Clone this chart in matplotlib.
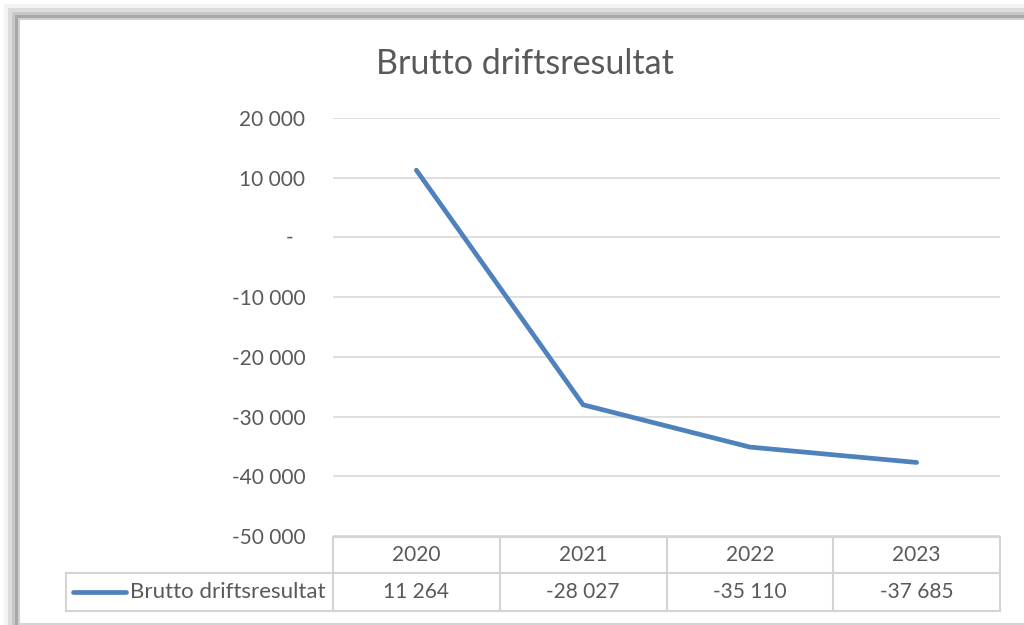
import matplotlib.pyplot as plt
import matplotlib.transforms as mtransforms
from matplotlib.lines import Line2D
from matplotlib.patches import Rectangle

years = ["2020", "2021", "2022", "2023"]
values = [11264, -28027, -35110, -37685]
yticks = [20000, 10000, 0, -10000, -20000, -30000, -40000, -50000]
series_name = "Brutto driftsresultat"

W, H = 1024, 625
txt = "#595959"
grid = "#D9D9D9"
blue = "#4F81BD"
plt.rcParams['font.family'] = ['Lato', 'DejaVu Sans']


def fx(px):
    return px / W


def fy(py):
    return 1 - py / H


def fmt(v):
    # zero is drawn separately as an accounting dash
    if v == 0:
        return ""
    return f"{v:,}".replace(",", " ")


fig = plt.figure(figsize=(W / 100, H / 100), dpi=100)

# shadow frame
for off, c in [(4, "#F4F4F4"), (8, "#DCDCDC"), (12, "#C8C8C8"), (15, "#A8A8A8"), (18, "#D0D0D0")]:
    fig.patches.append(Rectangle((fx(off), 0), 1, fy(off), transform=fig.transFigure,
                                 facecolor=c, edgecolor="none", zorder=-10 + off / 100))
fig.patches.append(Rectangle((fx(20), 0), 1, fy(20), transform=fig.transFigure,
                             facecolor="white", edgecolor="none", zorder=-9))

left, right, top, bottom = 333, 1000, 118, 536
ax = fig.add_axes([fx(left), fy(bottom), fx(right - left), (bottom - top) / H])
ax.set_facecolor("none")
x = list(range(len(years)))
ax.plot(x, values, color=blue, lw=3.4, solid_capstyle="round", solid_joinstyle="round", zorder=3)
ax.set_xlim(-0.5, len(years) - 0.5)
ax.set_ylim(-50000, 20000)
ax.set_yticks(yticks)
ax.set_yticklabels([fmt(v) for v in yticks], color=txt, fontsize=15)
ax.set_xticks([])
ax.tick_params(axis="y", length=0, pad=20)
ax.grid(axis="y", color=grid, lw=1.2)
for s in ax.spines.values():
    s.set_visible(False)

# zero label as dash
ytr = mtransforms.blended_transform_factory(fig.transFigure, ax.transData)
fig.text(fx(290), 0, "-", transform=ytr, ha="center", va="center", fontsize=15, color=txt)

fig.text(fx(525), fy(64), series_name, ha="center", va="center", fontsize=24.5, color=txt)

# data table
t1, t2, t3 = 537, 573, 611
lc = "#D4D4D4"
def hline(y, x0, x1):
    fig.add_artist(Line2D([fx(x0), fx(x1)], [fy(y), fy(y)], transform=fig.transFigure, color=lc, lw=1.5))
def vline(xp, y0, y1):
    fig.add_artist(Line2D([fx(xp), fx(xp)], [fy(y0), fy(y1)], transform=fig.transFigure, color=lc, lw=1.5))

hline(t1, left, right)
hline(t2, 66, right)
hline(t3, 66, right)
for i in range(len(years) + 1):
    vline(left + i * (right - left) / len(years), t1, t3)
vline(66, t2, t3)

tr = mtransforms.blended_transform_factory(ax.transData, fig.transFigure)
for i, (yr, v) in enumerate(zip(years, values)):
    fig.text(i, fy((t1 + t2) / 2), yr, transform=tr, ha="center", va="center", fontsize=15, color=txt)
    fig.text(i, fy((t2 + t3) / 2), fmt(v), transform=tr, ha="center", va="center", fontsize=15, color=txt)

ym = fy((t2 + t3) / 2)
fig.add_artist(Line2D([fx(73), fx(126)], [ym, ym], transform=fig.transFigure, color=blue, lw=3.4,
                      solid_capstyle="round"))
fig.text(fx(130), ym, series_name, ha="left", va="center", fontsize=16, color=txt)

# bottom border line
hline(624, 20, 1024)

fig.savefig("out.png", dpi=100)
